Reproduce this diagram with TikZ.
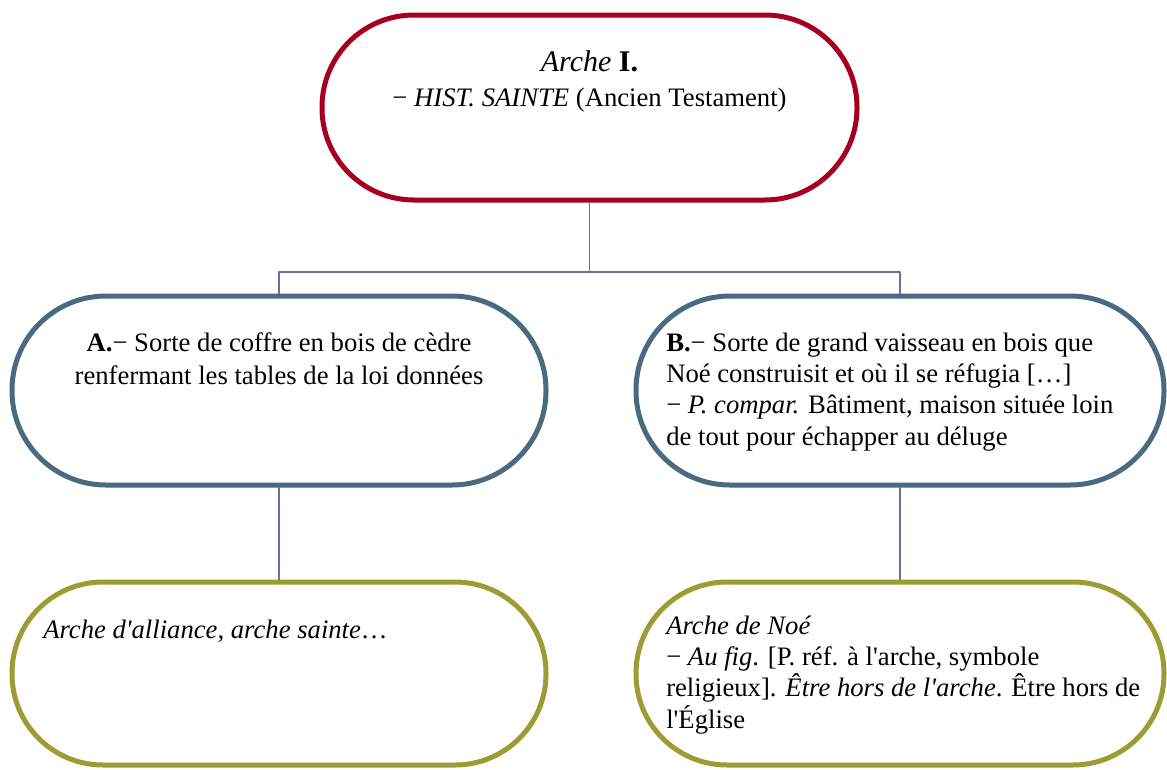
\documentclass[tikz,border=0pt]{standalone}
\usepackage{fontspec}
\setmainfont{Liberation Serif}[Ligatures=TeXOff]
\definecolor{archeRed}{RGB}{165,0,33}
\definecolor{sensBlue}{RGB}{74,106,128}
\definecolor{exOlive}{RGB}{157,155,52}
\definecolor{linkViolet}{RGB}{112,106,172}
\newdimen\pxu \pxu=0.75pt
\begin{document}
\begin{tikzpicture}[x=0.75pt,y=-0.75pt,line join=round,line cap=round]
	\tikzset{box/.style={draw,line width=3.75pt,fill=white,inner sep=0pt},
		link/.style={draw=linkViolet,line width=1.2pt},
		txt/.style={font=\fontsize{20}{24.5}\selectfont,inner sep=0pt},
		txtl/.style={font=\fontsize{20}{23.5}\selectfont,inner sep=0pt,anchor=base west,align=left}}
	\useasboundingbox (0,0) rectangle (1167,769);
	% boxes
	\node[box,draw=archeRed,minimum width=535\pxu,minimum height=185\pxu,rounded corners=92\pxu] (arche) at (589.5,107.5) {};
	\node[box,draw=sensBlue,minimum width=534\pxu,minimum height=189\pxu,rounded corners=94\pxu] (sensA) at (279,390.5) {};
	\node[box,draw=sensBlue,minimum width=528\pxu,minimum height=189\pxu,rounded corners=94\pxu] (sensB) at (900,390.5) {};
	\node[box,draw=exOlive,minimum width=534\pxu,minimum height=183\pxu,rounded corners=91\pxu] (exA) at (279,673.5) {};
	\node[box,draw=exOlive,minimum width=528\pxu,minimum height=183\pxu,rounded corners=91\pxu] (exB) at (900,673.5) {};
	% links
	\coordinate (fork) at (589.5,272);
	\draw[link] (arche.south) -- (fork);
	\draw[link] (sensA.north) |- (fork) -| (sensB.north);
	\draw[link] (sensA.south) -- (exA.north);
	\draw[link] (sensB.south) -- (exB.north);
	% texts (base = last line)
	\node[txt,anchor=base,align=center,font=\fontsize{20}{26}\selectfont] (archeT) at (589.5,106) {{\fontsize{22.5}{26}\selectfont\textit{Arche} \textbf{I.}}\\− \textit{HIST. SAINTE} (Ancien Testament)};
	\node[txt,anchor=base,align=center] (sensAT) at (279,384) {\textbf{A.}− Sorte de coffre en bois de cèdre\\renfermant les tables de la loi données};
	\node[txtl] (sensBT) at (666,445) {\textbf{B.}− Sorte de grand vaisseau en bois que\\Noé construisit et où il se réfugia […]\\− \textit{P. compar.} Bâtiment, maison située loin\\de tout pour échapper au déluge};
	\node[txt,anchor=base west] (exAT) at (43,638) {\textit{Arche d'alliance, arche sainte}…};
	\node[txtl] (exBT) at (666,728) {\textit{Arche de Noé}\\− \textit{Au fig}. [P. réf. à l'arche, symbole\\religieux]. \textit{Être hors de l'arche}. Être hors de\\l'Église};
\end{tikzpicture}
\end{document}
